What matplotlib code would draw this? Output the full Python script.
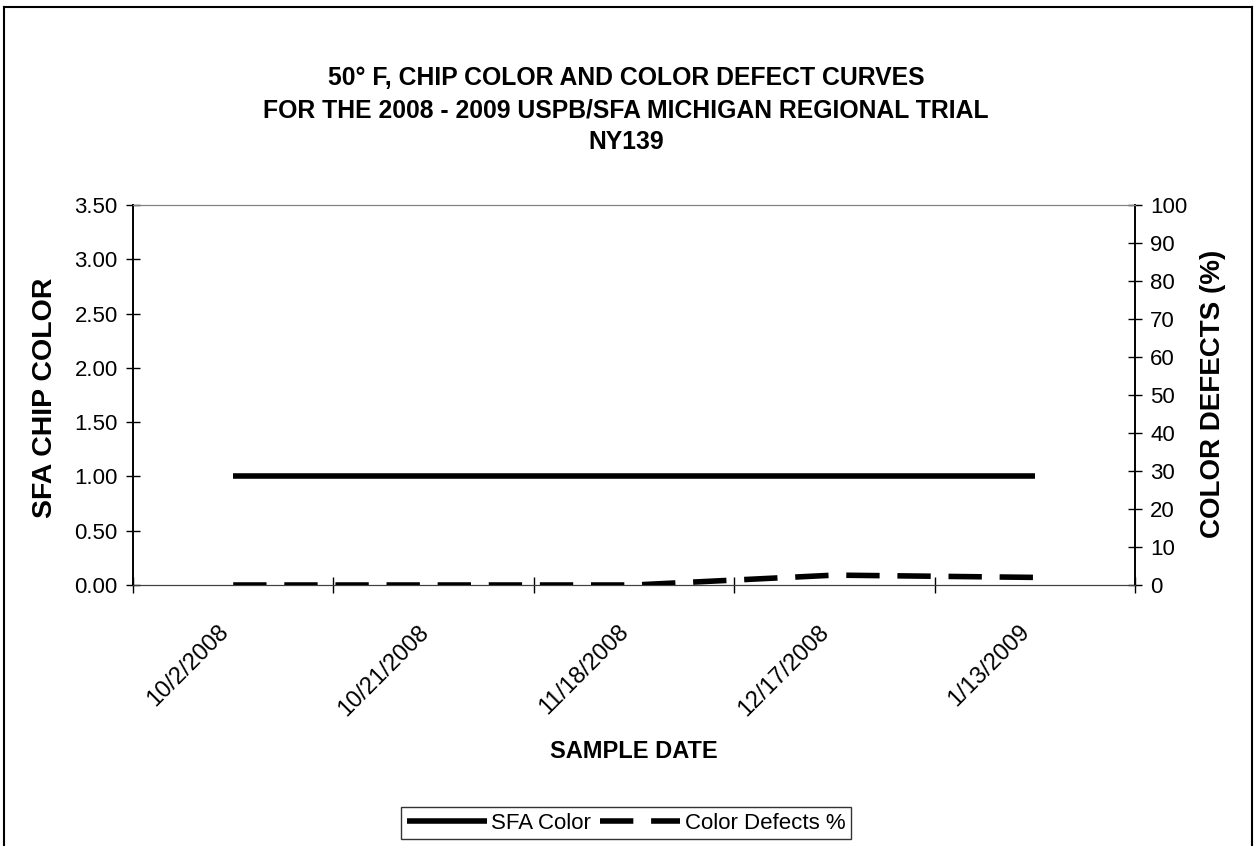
import matplotlib.pyplot as plt
from matplotlib.lines import Line2D
import matplotlib.transforms as mtransforms
import numpy as np

plt.rcParams['font.family'] = ['Liberation Sans', 'DejaVu Sans']

# data
dates = ['10/2/2008', '10/21/2008', '11/18/2008', '12/17/2008', '1/13/2009']
sfa_color = [1.0, 1.0, 1.0, 1.0, 1.0]
color_defects = [0.0, 0.0, 0.0, 2.6, 2.0]

W, H = 1255, 846
fig = plt.figure(figsize=(W / 100, H / 100), dpi=100)

# plot area in pixels: x 133-1135, y 205-585
ax = fig.add_axes([133 / W, 1 - 585 / H, (1135 - 133) / W, (585 - 205) / H])
ax2 = ax.twinx()

x = np.arange(len(dates))
l1, = ax.plot(x, sfa_color, color='black', lw=4, solid_capstyle='butt', zorder=3)
l2, = ax2.plot(x, color_defects, color='black', lw=4, dashes=(6, 3.2),
               dash_capstyle='butt', zorder=3)

ax.set_xlim(-0.5, len(dates) - 0.5)
ax.set_ylim(0, 3.5)
ax.set_yticks(np.arange(0, 3.51, 0.5))
ax.set_yticklabels(['%.2f' % v for v in np.arange(0, 3.51, 0.5)])
ax2.set_ylim(0, 100)
ax2.set_yticks(np.arange(0, 101, 10))

# category ticks between the dates, date labels under each category
ax.set_xticks(np.arange(-0.5, len(dates), 1.0))
ax.set_xticklabels([])
lab_tr = ax.get_xaxis_transform() + mtransforms.ScaledTranslation(
    -16 / 100, -36 / 100, fig.dpi_scale_trans)
for xi, d in zip(x, dates):
    ax.text(xi, 0, d, transform=lab_tr, rotation=45, ha='right', va='top',
            rotation_mode='anchor', fontsize=17)

ax.tick_params(axis='x', which='major', direction='inout', length=12, width=1)
ax.tick_params(axis='y', direction='inout', length=10, width=1, labelsize=16, pad=6)
ax2.tick_params(axis='y', direction='inout', length=10, width=1, labelsize=16, pad=6)

for a in (ax, ax2):
    a.spines['top'].set_color('#808080')
    a.spines['left'].set_linewidth(1.2)
    a.spines['right'].set_linewidth(1.2)
    a.spines['bottom'].set_color('#404040')

# titles and axis labels
title = ['50\u00b0 F, CHIP COLOR AND COLOR DEFECT CURVES',
         'FOR THE 2008 - 2009 USPB/SFA MICHIGAN REGIONAL TRIAL',
         'NY139']
for i, t in enumerate(title):
    fig.text(626 / W, 1 - (78 + 32 * i) / H, t, ha='center', va='center',
             fontsize=17.8, fontweight='bold')

fig.text(45 / W, 1 - 398 / H, 'SFA CHIP COLOR', rotation=90, ha='center',
         va='center', fontsize=20.5, fontweight='bold')
fig.text(1213 / W, 1 - 394 / H, 'COLOR DEFECTS (%)', rotation=90, ha='center',
         va='center', fontsize=20, fontweight='bold')
fig.text(634 / W, 1 - 752 / H, 'SAMPLE DATE', ha='center', va='center',
         fontsize=17, fontweight='bold')

leg = fig.legend([l1, l2], ['SFA Color', 'Color Defects %'], loc='center',
                 bbox_to_anchor=(626 / W, 1 - 823 / H), ncol=2, frameon=True,
                 fancybox=False, edgecolor='black', fontsize=16, handlelength=3.6,
                 handletextpad=0.2, columnspacing=0.4, borderpad=0.25,
                 borderaxespad=0)
leg.get_frame().set_linewidth(1)

# outer chart border (bottom edge is cut off)
border = dict(color='black', lw=1.5, transform=fig.transFigure)
fig.add_artist(Line2D([4 / W, 4 / W], [0, 1 - 7 / H], **border))
fig.add_artist(Line2D([4 / W, 1252 / W], [1 - 7 / H, 1 - 7 / H], **border))
fig.add_artist(Line2D([1252 / W, 1252 / W], [0, 1 - 7 / H], **border))

fig.savefig('out.png', dpi=100)
